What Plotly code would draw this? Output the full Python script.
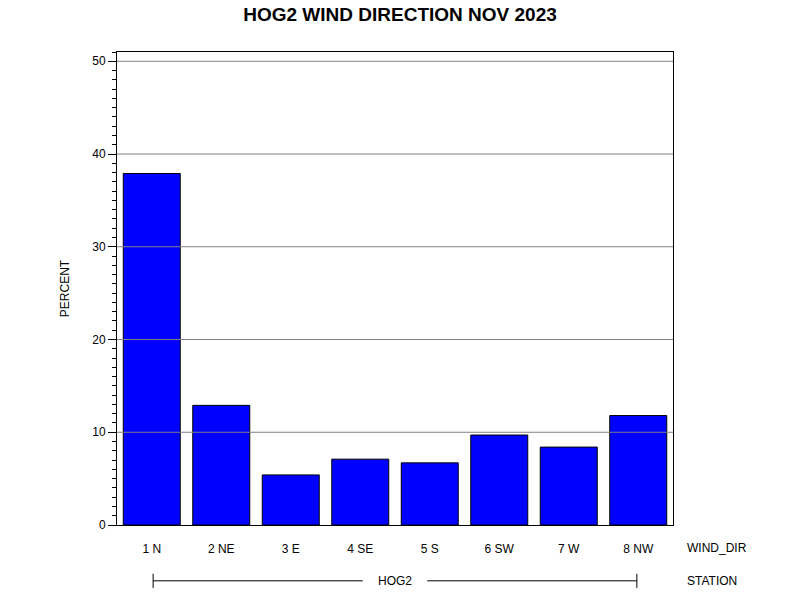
import plotly.graph_objects as go

categories = ["1 N", "2 NE", "3 E", "4 SE", "5 S", "6 SW", "7 W", "8 NW"]
percent = [37.9, 12.9, 5.4, 7.1, 6.7, 9.7, 8.4, 11.8]
y_ticks = [0, 10, 20, 30, 40, 50]
station = "HOG2"
title = "HOG2 WIND DIRECTION NOV 2023"

FONT = "Liberation Sans, Arial, sans-serif"

fig = go.Figure()
fig.add_trace(go.Bar(
    x=categories, y=percent,
    marker=dict(color="#0000ff", line=dict(color="black", width=1)),
    width=0.82,
))

shapes = []
for t in y_ticks[1:]:
    shapes.append(dict(type="line", xref="paper", yref="y", x0=0, x1=1, y0=t, y1=t,
                       line=dict(color="#808080", width=1), layer="above"))
# station bracket
y_st = -0.118
shapes.append(dict(type="line", xref="paper", yref="paper", x0=0.065, x1=0.442, y0=y_st, y1=y_st,
                   line=dict(color="black", width=1)))
shapes.append(dict(type="line", xref="paper", yref="paper", x0=0.558, x1=0.935, y0=y_st, y1=y_st,
                   line=dict(color="black", width=1)))
for xx in [0.065, 0.935]:
    shapes.append(dict(type="line", xref="paper", yref="paper", x0=xx, x1=xx, y0=y_st - 0.015, y1=y_st + 0.015,
                       line=dict(color="black", width=1)))

annotations = [
    dict(text=station, xref="paper", yref="paper", x=0.5, y=y_st, showarrow=False,
         font=dict(size=12, color="black", family=FONT), xanchor="center", yanchor="middle"),
    dict(text="WIND_DIR", xref="paper", yref="paper", x=1.021, y=-0.049, showarrow=False,
         font=dict(size=12, color="black", family=FONT), xanchor="left", yanchor="middle"),
    dict(text="STATION", xref="paper", yref="paper", x=1.021, y=y_st, showarrow=False,
         font=dict(size=12, color="black", family=FONT), xanchor="left", yanchor="middle"),
]

fig.update_layout(
    width=800, height=600,
    margin=dict(l=117, r=127, t=52, b=75),
    paper_bgcolor="white", plot_bgcolor="white",
    showlegend=False,
    title=dict(text="<b>" + title + "</b>", x=0.5, xanchor="center", y=0.987, yanchor="top",
               font=dict(size=19, color="black", family=FONT)),
    font=dict(family=FONT, size=12, color="black"),
    shapes=shapes, annotations=annotations,
    bargap=0.18,
)
fig.update_xaxes(
    showline=True, linecolor="black", linewidth=1, mirror=True,
    showgrid=False, ticks="", ticklabelstandoff=13,
    tickfont=dict(size=12, color="black", family=FONT),
)
fig.update_yaxes(
    range=[0, 51], tickvals=y_ticks,
    showline=True, linecolor="black", linewidth=1, mirror=True,
    showgrid=False, zeroline=False,
    ticks="outside", ticklen=8, tickcolor="black", tickwidth=1,
    minor=dict(dtick=1, ticks="outside", ticklen=4, tickcolor="black", tickwidth=1, showgrid=False),
    tickfont=dict(size=12, color="black", family=FONT),
    title=dict(text="PERCENT", font=dict(size=12, color="black", family=FONT), standoff=20),
)

fig.write_html("out.html", config={"displayModeBar": False},
               post_script="document.body.style.margin='0';")
